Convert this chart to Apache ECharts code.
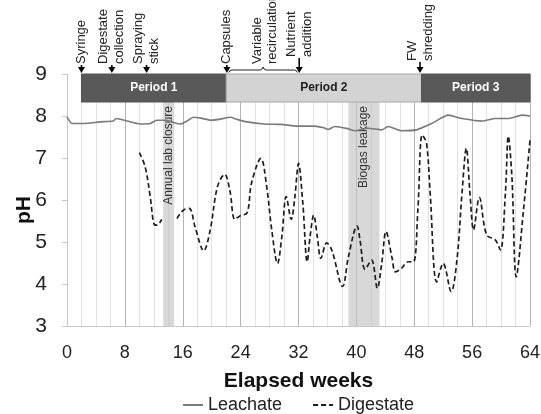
<!DOCTYPE html>
<html><head><meta charset="utf-8">
<script src="https://cdn.jsdelivr.net/npm/echarts@6/dist/echarts.min.js"></script>
<style>html,body{margin:0;padding:0;background:#fff}#c{width:541px;height:414px}</style>
</head><body><div id="c"></div>
<script>
// ---------- data ----------
const xTicks = [0, 8, 16, 24, 32, 40, 48, 56, 64];
const leachateWeeks = [0,0.7,2.3,4.6,6.4,6.8,8.3,10.1,11.5,12.4,13.8,14.8,15.7,16.6,17.5,18.5,19.9,21.0,22.6,23.5,24.9,27.2,29.6,31.9,34.2,35.5,36.1,37.0,38.8,39.8,41.6,43.5,44.4,46.2,48.3,50.4,52.7,54.6,57.4,59.2,61.1,62.9,64];
const leachatePH = [7.98,7.82,7.82,7.86,7.88,7.94,7.88,7.81,7.82,7.90,7.90,7.84,7.81,7.88,7.97,7.95,7.90,7.92,7.97,7.92,7.86,7.81,7.80,7.76,7.76,7.72,7.68,7.75,7.70,7.65,7.71,7.67,7.75,7.65,7.67,7.82,8.02,7.94,7.88,7.94,7.94,8.02,8.00];
const digestateWeeks = [10.0,10.8,11.5,12.0,12.4,13.1,14.0,15.2,16.1,16.9,17.7,18.9,19.8,20.8,21.8,22.5,23.2,23.9,24.9,25.5,26.8,27.6,28.3,29.1,29.7,30.3,31.0,31.5,32.0,32.6,33.2,33.6,34.1,34.6,35.1,35.9,36.6,38.1,38.9,40.1,40.5,41.2,42.1,42.9,43.5,44.1,44.9,45.4,46.1,47.2,47.9,48.5,49.1,49.7,50.2,51.1,52.0,53.1,53.9,54.6,55.2,55.7,56.2,57.0,58.0,59.2,59.9,60.6,61.0,61.5,62.1,63.1,64.0];
const digestatePH = [7.13,6.79,6.08,5.44,5.40,5.54,null,5.56,5.76,5.80,5.36,4.79,5.29,6.32,6.61,6.24,5.54,5.62,5.70,6.40,6.99,6.32,5.29,4.49,5.13,6.08,5.54,6.08,6.87,5.92,4.53,5.13,5.64,5.13,4.61,4.98,4.81,3.94,4.65,5.38,5.05,4.35,4.57,3.90,4.49,5.25,4.65,4.29,4.35,4.53,4.53,5.76,7.55,7.35,6.16,4.05,4.49,3.82,4.57,6.16,7.23,6.16,5.29,6.06,5.17,5.05,4.81,6.16,7.52,6.55,4.17,5.76,7.43];
const periodNames = ['Period 1', 'Period 2', 'Period 3'];
const periodStart = [2, 22, 49];
const periodEnd = [22, 49, 64];
const eventNames = ['Syringe', 'Digestate\ncollection', 'Spraying\nstick', 'Capsules', 'Nutrient\naddition', 'FW\nshredding'];
const eventWeeks = [2, 6.2, 11, 22.1, 32.1, 48.8];
const bracketName = ['Variable\nrecirculation'];
const bracketStart = [22.1];
const bracketEnd = [32.1];
const shadeNames = ['Annual lab closure', 'Biogas leakage'];
const shadeStart = [13.3, 38.9];
const shadeEnd = [14.8, 43.2];

// ---------- chart ----------
const FONT = '"Liberation Sans", Arial, sans-serif';
const chart = echarts.init(document.getElementById('c'), null, {renderer: 'canvas'});
const zip = (a, b) => a.map((v, i) => [v, b[i] === null ? null : b[i]]);

function renderShade(params, api) {
  const p0 = api.coord([api.value(0), 9]);
  const p1 = api.coord([api.value(1), 3]);
  const name = shadeNames[params.dataIndex];
  const cx = (p0[0] + p1[0]) / 2;
  return {type: 'group', children: [
    {type: 'rect', shape: {x: p0[0], y: p0[1], width: p1[0] - p0[0], height: p1[1] - p0[1]},
     style: {fill: 'rgba(195,195,195,0.65)'}},
    {type: 'text', x: cx, y: p0[1] + 32, rotation: Math.PI / 2,
     style: {text: name, align: 'right', verticalAlign: 'middle', font: '12px ' + FONT, fill: '#333'}}
  ]};
}

function renderPeriod(params, api) {
  const i = params.dataIndex;
  const p0 = api.coord([api.value(0), 9]);
  const p1 = api.coord([api.value(1), 9]);
  const h = 28;
  const light = i === 1;
  return {type: 'group', children: [
    {type: 'rect', shape: {x: p0[0], y: p0[1], width: p1[0] - p0[0], height: h},
     style: {fill: light ? '#d3d3d3' : '#595959', stroke: light ? '#a8a8a8' : '#555', lineWidth: 1}},
    {type: 'text', x: (p0[0] + p1[0]) / 2, y: p0[1] + h / 2,
     style: {text: periodNames[i], align: 'center', verticalAlign: 'middle',
             font: 'bold 12px ' + FONT, fill: light ? '#222' : '#fff'}}
  ]};
}

const labelLift = {'Nutrient\naddition': 16, 'FW\nshredding': 12};
function renderEvent(params, api) {
  const i = params.dataIndex;
  const p = api.coord([api.value(0), 9]);
  const x = p[0], top = p[1];
  const name = eventNames[i];
  const ly = top - (labelLift[name] || 9);
  return {type: 'group', children: [
    {type: 'line', shape: {x1: x, y1: ly, x2: x, y2: top - 5}, style: {stroke: '#000', lineWidth: 1.6}},
    {type: 'polygon', shape: {points: [[x - 3.5, top - 7], [x + 3.5, top - 7], [x, top - 1]]}, style: {fill: '#000'}},
    {type: 'text', x: x, y: ly - 1, rotation: Math.PI / 2,
     style: {text: name, align: 'left', verticalAlign: 'middle', font: '13px ' + FONT, fill: '#222', lineHeight: 16}}
  ]};
}

function renderBracket(params, api) {
  const a = api.coord([api.value(0), 9]);
  const b = api.coord([api.value(1), 9]);
  const x0 = a[0] + 2, x1 = b[0] - 2, top = a[1], m = (x0 + x1) / 2;
  const pts = [[x0, top - 1.5], [x0 + 1, top - 3.5], [x0 + 3, top - 4], [m - 3, top - 4], [m - 1, top - 5], [m, top - 7],
               [m + 1, top - 5], [m + 3, top - 4], [x1 - 3, top - 4], [x1 - 1, top - 3.5], [x1, top - 1.5]];
  return {type: 'group', children: [
    {type: 'polyline', shape: {points: pts}, style: {stroke: '#222', lineWidth: 1, fill: null}},
    {type: 'text', x: m + 2, y: top - 10, rotation: Math.PI / 2,
     style: {text: bracketName[params.dataIndex], align: 'left', verticalAlign: 'middle', font: '13px ' + FONT, fill: '#222', lineHeight: 15}}
  ]};
}

const option = {
  animation: false,
  textStyle: {fontFamily: FONT},
  grid: {left: 67, right: 11, top: 74, bottom: 88, containLabel: false, outerBoundsMode: 'none'},
  legend: {
    left: 177, top: 391, itemWidth: 20, itemHeight: 10, itemGap: 30,
    textStyle: {fontSize: 18, color: '#222', fontFamily: FONT},
    data: ['Leachate', 'Digestate']
  },
  xAxis: {
    type: 'value', min: 0, max: 64, interval: 2,
    name: 'Elapsed weeks', nameLocation: 'middle', nameGap: 45,
    nameTextStyle: {fontSize: 21, fontWeight: 'bold', color: '#111', fontFamily: FONT},
    axisLine: {show: true, lineStyle: {color: '#c8c8c8'}},
    axisTick: {show: false},
    axisLabel: {fontSize: 18, color: '#222', margin: 18, fontFamily: FONT,
      formatter: v => xTicks.indexOf(v) >= 0 ? String(v) : ''},
    splitLine: {show: true, lineStyle: {color: ['#b4b4b4', '#e2e2e2', '#e2e2e2', '#e2e2e2'], width: 1}}
  },
  yAxis: {
    type: 'value', min: 3, max: 9, interval: 1,
    name: 'pH', nameLocation: 'middle', nameGap: 32, nameMoveOverlap: false,
    nameTextStyle: {fontSize: 21, fontWeight: 'bold', color: '#111', fontFamily: FONT, padding: [0, 20, 0, 0]},
    axisLine: {show: true, lineStyle: {color: '#c8c8c8'}},
    axisTick: {show: true, length: 5, lineStyle: {color: '#c8c8c8'}},
    axisLabel: {fontSize: 21, color: '#222', margin: 20, fontFamily: FONT},
    splitLine: {show: false}
  },
  series: [
    {type: 'custom', name: 'shade', z: 1, renderItem: renderShade,
     data: shadeStart.map((s, i) => [s, shadeEnd[i]]), encode: {x: [0, 1]}, silent: true},
    {type: 'line', name: 'Leachate', z: 3, data: zip(leachateWeeks, leachatePH),
     symbol: 'circle', showSymbol: false, smooth: 0.2, lineStyle: {color: '#7a7a7a', width: 1.6},
     itemStyle: {color: 'rgba(0,0,0,0)', borderWidth: 0}},
    {type: 'line', name: 'Digestate', z: 3, data: zip(digestateWeeks, digestatePH),
     symbol: 'circle', showSymbol: false, smooth: 0.35, connectNulls: false,
     lineStyle: {color: '#1e1e1e', width: 1.7, type: [5, 3]}, itemStyle: {color: 'rgba(0,0,0,0)', borderWidth: 0}},
    {type: 'custom', name: 'periods', z: 5, renderItem: renderPeriod,
     data: periodStart.map((s, i) => [s, periodEnd[i]]), encode: {x: [0, 1]}, silent: true},
    {type: 'custom', name: 'events', z: 5, renderItem: renderEvent,
     data: eventWeeks.map(w => [w]), encode: {x: 0}, silent: true},
    {type: 'custom', name: 'bracket', z: 5, renderItem: renderBracket,
     data: bracketStart.map((s, i) => [s, bracketEnd[i]]), encode: {x: [0, 1]}, silent: true}
  ]
};
chart.setOption(option);
</script>
</body></html>
